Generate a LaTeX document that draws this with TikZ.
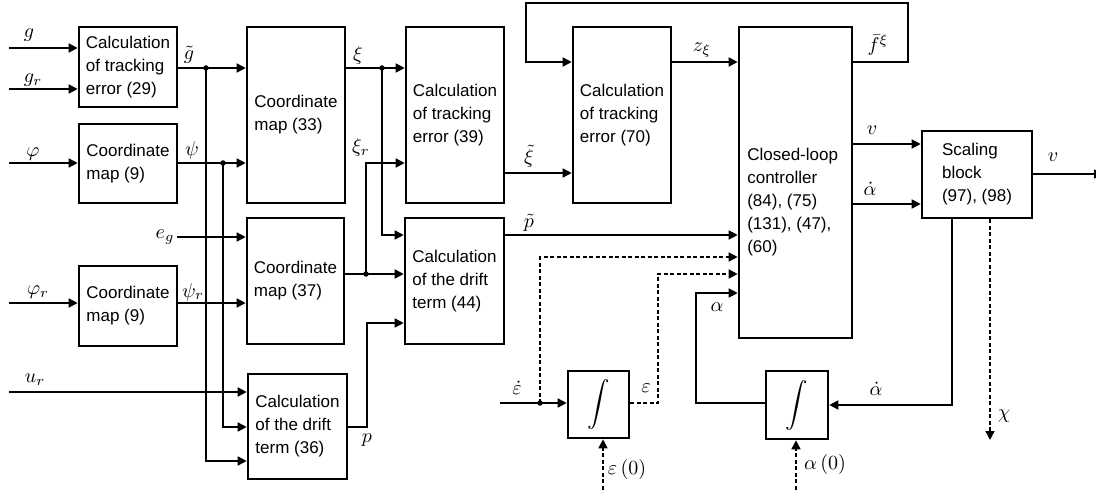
\documentclass[tikz,border=0pt]{standalone}
\usepackage{fontspec}
\usepackage{graphicx}
\newfontfamily\blkfont{Liberation Sans}
\usetikzlibrary{arrows.meta}
\begin{document}
\begin{tikzpicture}[x=1pt,y=-1pt,
  blk/.style={draw, line width=2.6pt, inner sep=0pt, font=\blkfont\fontsize{17}{23}\selectfont, align=left},
  ln/.style={line width=1.6pt},
  arr/.style={ln, -{Triangle[length=9pt,width=9pt]}},
  dsh/.style={dash pattern=on 4pt off 2.5pt},
  lab/.style={font=\fontsize{10}{12}\selectfont, inner sep=0pt, scale=2},
  dot/.style={circle, fill, inner sep=0pt, minimum size=5.5pt},
  intg/.style={blk, font=\fontsize{10}{12}\selectfont},
]
\useasboundingbox (0,0) rectangle (1096,492);

% blocks
\node[blk, minimum width=98pt, minimum height=80pt] (E29) at (128,67) {Calculation\\of tracking\\error (29)};
\node[blk, minimum width=98pt, minimum height=79pt] (CMa) at (128,163.5) {Coordinate\\map (9)};
\node[blk, minimum width=98pt, minimum height=80pt] (CMb) at (128,306) {Coordinate\\map (9)};
\node[blk, minimum width=98pt, minimum height=176pt] (CM33) at (296,115) {Coordinate\\map (33)};
\node[blk, minimum width=97pt, minimum height=126pt] (CM37) at (295.5,281) {Coordinate\\map (37)};
\node[blk, minimum width=99pt, minimum height=105pt] (D36) at (297.5,426.5) {Calculation\\of the drift\\term (36)};
\node[blk, minimum width=98pt, minimum height=176pt] (E39) at (455,115) {Calculation\\of tracking\\error (39)};
\node[blk, minimum width=99pt, minimum height=126pt] (D44) at (454.5,281) {Calculation\\of the drift\\term (44)};
\node[blk, minimum width=98pt, minimum height=176pt] (E70) at (622,115) {Calculation\\of tracking\\error (70)};
\node[blk, minimum width=113pt, minimum height=311pt] (CL) at (795.5,182.5) {};
\node[blk, draw=none, anchor=west] (CLt) at (746,202) {Closed-loop\\controller\\(84), (75)\\(131), (47),\\(60)};
\node[blk, minimum width=110pt, minimum height=87pt] (SC) at (977,174.5) {Scaling\\block\\(97), (98)};
\node[intg, minimum width=61pt, minimum height=67pt] (I1) at (598.5,404.5) {\scalebox{2.25}{$\displaystyle\int$}};
\node[intg, minimum width=62pt, minimum height=68pt] (I2) at (797,405) {\scalebox{2.25}{$\displaystyle\int$}};

% coordinates
\coordinate (gin) at (9,48);
\coordinate (grin) at (9,89);
\coordinate (phin) at (9,163);
\coordinate (phrin) at (9,303);
\coordinate (urin) at (9,392);
\coordinate (egin) at (177,237);
\coordinate (jg) at (206,68);
\coordinate (jp) at (223,163);
\coordinate (jx) at (382,68);
\coordinate (jr) at (366,274);
\coordinate (pk) at (367,427);
\coordinate (f1) at (908,3);
\coordinate (f0) at (526,3);
\coordinate (vout) at (1103,174);
\coordinate (edin) at (500,403);
\coordinate (je) at (540,403);
\coordinate (ek) at (658,403);
\coordinate (e0) at (603,496);
\coordinate (ak) at (696,403);
\coordinate (sk) at (952,405);
\coordinate (chi) at (990,440);
\coordinate (a0) at (796,496);

% inputs
\draw[arr] (gin) -- (gin -| E29.west);
\draw[arr] (grin) -- (grin -| E29.west);
\draw[arr] (phin) -- (phin -| CMa.west);
\draw[arr] (phrin) -- (phrin -| CMb.west);
\draw[arr] (urin) -- (urin -| D36.west);
\draw[arr] (egin) -- (egin -| CM37.west);

% g tilde
\draw[arr] (E29.east |- jg) -- (jg -| CM33.west);
\draw[arr] (jg) |- (D36.west |- 0,461);
\node[dot] (dg) at (jg) {};
% psi
\draw[arr] (CMa.east |- jp) -- (jp -| CM33.west);
\draw[arr] (jp) |- (D36.west |- 0,427);
\node[dot] (dp) at (jp) {};
% psi_r
\draw[arr] (CMb.east |- 0,303) -- (CM37.west |- 0,303);
% xi
\draw[arr] (CM33.east |- jx) -- (jx -| E39.west);
\draw[arr] (jx) |- (D44.west |- 0,235);
\node[dot] (dx) at (jx) {};
% xi_r
\draw[arr] (CM37.east |- jr) -- (jr -| D44.west);
\draw[arr] (jr) |- (E39.west |- 0,163);
\node[dot] (dr) at (jr) {};
% p
\draw[arr] (D36.east |- pk) -- (pk) |- (D44.west |- 0,323);
% xi tilde, p tilde, z_xi
\draw[arr] (E39.east |- 0,173) -- (E70.west |- 0,173);
\draw[arr] (D44.east |- 0,235) -- (CL.west |- 0,235);
\draw[arr] (E70.east |- 0,62) -- (CL.west |- 0,62);
% f bar feedback
\draw[arr] (CL.east |- 0,62) -| (f1) -- (f0) |- (E70.west |- 0,62);
% v, alpha dot
\draw[arr] (CL.east |- 0,144) -- (SC.west |- 0,144);
\draw[arr] (CL.east |- 0,204) -- (SC.west |- 0,204);
\draw[arr] (SC.east |- vout) -- (vout);
% epsilon integrator
\draw[arr] (edin) -- (edin -| I1.west);
\draw[arr,dsh] (je) |- (CL.west |- 0,257);
\node[dot] (de) at (je) {};
\draw[arr,dsh] (I1.east |- ek) -- (ek) |- (CL.west |- 0,274);
\draw[arr,dsh] (e0) -- (e0 |- I1.south);
% alpha integrator
\draw[arr] (I2.west |- ak) -- (ak) |- (CL.west |- 0,293);
\draw[arr] (SC.south -| sk) -- (sk) -- (sk -| I2.east);
\draw[arr,dsh] (SC.south -| chi) -- (chi);
\draw[arr,dsh] (a0) -- (a0 |- I2.south);

% labels
\node[lab] (lg) at (29,35) {$g$};
\node[lab] (lgr) at (33,80) {$g_r$};
\node[lab] (lphi) at (33,154) {$\varphi$};
\node[lab] (lphir) at (38,292) {$\varphi_r$};
\node[lab] (lur) at (35,380) {$u_r$};
\node[lab] (leg) at (165,237) {$e_g$};
\node[lab] (lgt) at (189,55) {$\tilde g$};
\node[lab] (lpsi) at (192,151) {$\psi$};
\node[lab] (lpsir) at (193,292) {$\psi_r$};
\node[lab] (lxi) at (358,56) {$\xi$};
\node[lab] (lxir) at (361,148) {$\xi_r$};
\node[lab] (lp) at (367,440) {$p$};
\node[lab] (lxit) at (529,156) {$\tilde\xi$};
\node[lab] (lpt) at (529,223) {$\tilde p$};
\node[lab] (lz) at (702,50) {$z_\xi$};
\node[lab] (lf) at (878,45) {$\bar f^{\xi}$};
\node[lab] (lv) at (872,130) {$v$};
\node[lab] (lad) at (870,189) {$\dot\alpha$};
\node[lab] (lvo) at (1053,157) {$v$};
\node[lab] (la) at (717,307) {$\alpha$};
\node[lab] (lad2) at (876,389) {$\dot\alpha$};
\node[lab] (lchi) at (1004,416) {$\chi$};
\node[lab] (la0) at (825,464) {$\alpha\,(0)$};
\node[lab] (led) at (517,388) {$\dot\varepsilon$};
\node[lab] (le) at (646,388) {$\varepsilon$};
\node[lab] (le0) at (627,469) {$\varepsilon\,(0)$};
\end{tikzpicture}
\end{document}
